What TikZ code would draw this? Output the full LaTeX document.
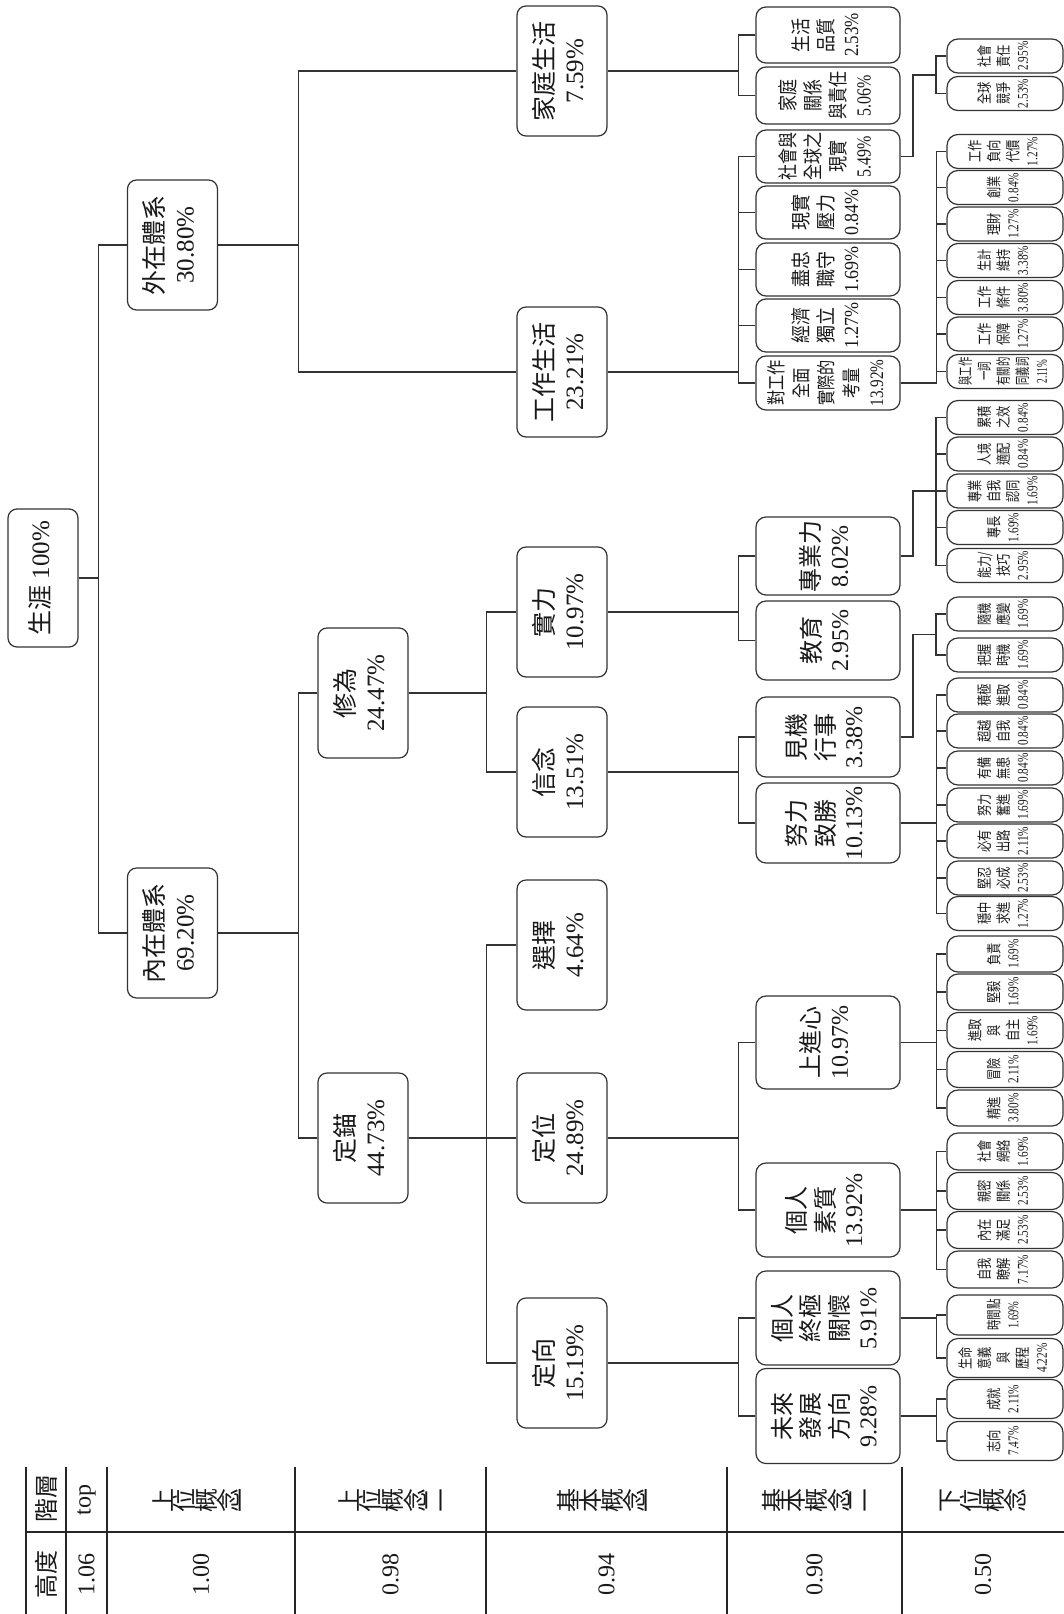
\documentclass[tikz,border=0pt]{standalone}
\usepackage{fontspec}
\usepackage{graphicx}
\setmainfont{Liberation Serif}
\newfontfamily\zh{Noto Sans CJK TC}
\newcommand\lbl[4]{\rotatebox{90}{\scalebox{#3}[1]{\fontsize{#1}{#2}\selectfont\begin{tabular}{@{}c@{}}#4\end{tabular}}}}
\newcommand\lbig[1]{\lbl{25}{30}{1}{#1}}
\newcommand\lmid[2][1]{\lbl{24}{28}{#1}{#2}}
\newcommand\llo[2][0.85]{\lbl{20}{25}{#1}{#2}}
\newcommand\lsm[2][0.75]{\lbl{15}{19}{#1}{#2}}
\newcommand\vg[1]{\rotatebox{90}{#1}}
\begin{document}
\begin{tikzpicture}[x=1pt,y=-1pt,
  box/.style={draw=black!80, line width=1.2pt, inner sep=0pt, fill=white, text=black!90},
  b0/.style={box, rounded corners=9pt, minimum width=70pt, minimum height=138pt},
  b1/.style={box, rounded corners=9pt, minimum width=90pt, minimum height=130pt},
  b4/.style={box, rounded corners=10pt, minimum width=144pt},
  b5/.style={box, rounded corners=11pt, minimum width=116pt},
  conn/.style={draw=black!80, line width=1.1pt},
  tline/.style={draw=black!85, line width=1.2pt},
  tcell/.style={inner sep=0pt, text=black!90, font=\fontsize{24}{28}\selectfont}]
\useasboundingbox (0,0) rectangle (1064,1614);

% level 0-3
\node[b0] (root) at (43,578) {\lbig{{\zh 生涯} 100\%}};
\node[b1] (wz) at (172.5,245) {\lbig{\zh 外在體系\\30.80\%}};
\node[b1] (nz) at (172.5,933) {\lbig{\zh 內在體系\\69.20\%}};
\node[b1] (xw) at (363,693) {\lbig{\zh 修為\\24.47\%}};
\node[b1] (dm) at (363,1138) {\lbig{\zh 定錨\\44.73\%}};
\node[b1] (jt) at (562,71) {\lbig{\zh 家庭生活\\7.59\%}};
\node[b1] (gz) at (562,372) {\lbig{\zh 工作生活\\23.21\%}};
\node[b1] (sl) at (562,612) {\lbig{\zh 實力\\10.97\%}};
\node[b1] (xn) at (562,772) {\lbig{\zh 信念\\13.51\%}};
\node[b1] (xz) at (562,945) {\lbig{\zh 選擇\\4.64\%}};
\node[b1] (dw) at (562,1138) {\lbig{\zh 定位\\24.89\%}};
\node[b1] (dx) at (562,1363) {\lbig{\zh 定向\\15.19\%}};

% level 4
\node[b4, minimum height=56] (shpz) at (828,35) {\llo{\zh 生活\\\zh 品質\\2.53\%}};
\node[b4, minimum height=57] (jtgx) at (828,95.5) {\llo[0.8]{\zh 家庭\\\zh 關係\\\zh 與責任\\5.06\%}};
\node[b4, minimum height=53] (sgj) at (828,156.5) {\llo[0.8]{\zh 社會與\\\zh 全球之\\\zh 現實\\5.49\%}};
\node[b4, minimum height=53] (xsyl) at (828,212.5) {\llo[0.9]{\zh 現實\\\zh 壓力\\0.84\%}};
\node[b4, minimum height=53] (jzzs) at (828,269.5) {\llo[0.9]{\zh 盡忠\\\zh 職守\\1.69\%}};
\node[b4, minimum height=53] (jjdl) at (828,325.5) {\llo[0.9]{\zh 經濟\\\zh 獨立\\1.27\%}};
\node[b4, minimum height=54] (dgz) at (828,383) {\lbl{19}{25}{0.8}{\zh 對工作\\\zh 全面\\\zh 實際的\\\zh 考量\\13.92\%}};
\node[b4, minimum height=78] (zyl) at (828,556) {\lmid{\zh 專業力\\8.02\%}};
\node[b4, minimum height=79] (jy) at (828,640.5) {\lmid{\zh 教育\\2.95\%}};
\node[b4, minimum height=80] (jjxs) at (828,737) {\lmid{\zh 見機\\\zh 行事\\3.38\%}};
\node[b4, minimum height=80] (nlzs) at (828,823) {\lmid{\zh 努力\\\zh 致勝\\10.13\%}};
\node[b4, minimum height=93] (sjx) at (828,1042.5) {\lmid{\zh 上進心\\10.97\%}};
\node[b4, minimum height=94] (grsz) at (828,1210) {\lmid{\zh 個人\\\zh 素質\\13.92\%}};
\node[b4, minimum height=94] (zjgh) at (828,1318) {\lmid{\zh 個人\\\zh 終極\\\zh 關懷\\5.91\%}};
\node[b4, minimum height=95] (wlfz) at (828,1416) {\lmid{\zh 未來\\\zh 發展\\\zh 方向\\9.28\%}};

% level 5
\node[b5, minimum height=34] (n1) at (1005,56) {\lsm{\zh 社會\\\zh 責任\\2.95\%}};
\node[b5, minimum height=34] (n2) at (1005,93.5) {\lsm{\zh 全球\\\zh 競爭\\2.53\%}};
\node[b5, minimum height=34] (n3) at (1005,151.5) {\lsm{\zh 工作\\\zh 負向\\\zh 代價\\1.27\%}};
\node[b5, minimum height=34] (n4) at (1005,187.5) {\lsm{\zh 創業\\0.84\%}};
\node[b5, minimum height=34] (n5) at (1005,224) {\lsm{\zh 理財\\1.27\%}};
\node[b5, minimum height=34] (n6) at (1005,260.5) {\lsm{\zh 生計\\\zh 維持\\3.38\%}};
\node[b5, minimum height=34] (n7) at (1005,297.5) {\lsm{\zh 工作\\\zh 條件\\3.80\%}};
\node[b5, minimum height=34] (n8) at (1005,334) {\lsm{\zh 工作\\\zh 保障\\1.27\%}};
\node[b5, minimum height=34] (n9) at (1005,371.5) {\lsm[0.62]{\zh 與工作\\\zh 一詞\\\zh 有關的\\\zh 同義詞\\2.11\%}};
\node[b5, minimum height=34] (n10) at (1005,417.5) {\lsm{\zh 累積\\\zh 之效\\0.84\%}};
\node[b5, minimum height=34] (n11) at (1005,454) {\lsm{\zh 人境\\\zh 適配\\0.84\%}};
\node[b5, minimum height=34] (n12) at (1005,491) {\lsm{\zh 專業\\\zh 自我\\\zh 認同\\1.69\%}};
\node[b5, minimum height=34] (n13) at (1005,527.5) {\lsm{\zh 專長\\1.69\%}};
\node[b5, minimum height=34] (n14) at (1005,565.5) {\lsm{\zh 能力/\\\zh 技巧\\2.95\%}};
\node[b5, minimum height=34] (n15) at (1005,614) {\lsm{\zh 隨機\\\zh 應變\\1.69\%}};
\node[b5, minimum height=34] (n16) at (1005,655) {\lsm{\zh 把握\\\zh 時機\\1.69\%}};
\node[b5, minimum height=34] (n17) at (1005,695) {\lsm{\zh 積極\\\zh 進取\\0.84\%}};
\node[b5, minimum height=34] (n18) at (1005,731) {\lsm{\zh 超越\\\zh 自我\\0.84\%}};
\node[b5, minimum height=34] (n19) at (1005,768) {\lsm{\zh 有備\\\zh 無患\\0.84\%}};
\node[b5, minimum height=34] (n20) at (1005,805) {\lsm{\zh 努力\\\zh 奮進\\1.69\%}};
\node[b5, minimum height=34] (n21) at (1005,841) {\lsm{\zh 必有\\\zh 出路\\2.11\%}};
\node[b5, minimum height=34] (n22) at (1005,878) {\lsm{\zh 堅忍\\\zh 必成\\2.53\%}};
\node[b5, minimum height=34] (n23) at (1005,913.5) {\lsm{\zh 穩中\\\zh 求進\\1.27\%}};
\node[b5, minimum height=36] (n24) at (1005,954) {\lsm{\zh 負責\\1.69\%}};
\node[b5, minimum height=36] (n25) at (1005,992) {\lsm{\zh 堅毅\\1.69\%}};
\node[b5, minimum height=36] (n26) at (1005,1030.5) {\lsm{\zh 進取\\\zh 與\\\zh 自主\\1.69\%}};
\node[b5, minimum height=36] (n27) at (1005,1069.5) {\lsm{\zh 冒險\\2.11\%}};
\node[b5, minimum height=36] (n28) at (1005,1108) {\lsm{\zh 精進\\3.80\%}};
\node[b5, minimum height=37] (n29) at (1005,1151.5) {\lsm{\zh 社會\\\zh 網絡\\1.69\%}};
\node[b5, minimum height=37] (n30) at (1005,1191) {\lsm{\zh 親密\\\zh 關係\\2.53\%}};
\node[b5, minimum height=37] (n31) at (1005,1230) {\lsm{\zh 內在\\\zh 滿足\\2.53\%}};
\node[b5, minimum height=37] (n32) at (1005,1269.5) {\lsm{\zh 自我\\\zh 瞭解\\7.17\%}};
\node[b5, minimum height=40] (n33) at (1005,1315) {\lsm[0.7]{\zh 時間點\\1.69\%}};
\node[b5, minimum height=39] (n34) at (1005,1358) {\lsm{\zh 生命\\\zh 意義\\\zh 與\\\zh 歷程\\4.22\%}};
\node[b5, minimum height=39] (n35) at (1005,1399) {\lsm{\zh 成就\\2.11\%}};
\node[b5, minimum height=39] (n36) at (1005,1441) {\lsm{\zh 志向\\7.47\%}};

% connectors
\foreach \c in {wz,nz} \draw[conn] (root.east) -- ++(20,0) |- (\c.west);
\foreach \c in {jt,gz} \draw[conn] (wz.east) -- ++(80,0) |- (\c.west);
\foreach \c in {xw,dm} \draw[conn] (nz.east) -- ++(80,0) |- (\c.west);
\foreach \c in {sl,xn} \draw[conn] (xw.east) -- ++(78,0) |- (\c.west);
\foreach \c in {xz,dw,dx} \draw[conn] (dm.east) -- ++(78,0) |- (\c.west);
\foreach \c in {shpz,jtgx} \draw[conn] (jt.east) -- ++(131,0) |- (\c.west);
\foreach \c in {sgj,xsyl,jzzs,jjdl,dgz} \draw[conn] (gz.east) -- ++(131,0) |- (\c.west);
\foreach \c in {zyl,jy} \draw[conn] (sl.east) -- ++(131,0) |- (\c.west);
\foreach \c in {jjxs,nlzs} \draw[conn] (xn.east) -- ++(131,0) |- (\c.west);
\foreach \c in {sjx,grsz} \draw[conn] (dw.east) -- ++(131,0) |- (\c.west);
\foreach \c in {zjgh,wlfz} \draw[conn] (dx.east) -- ++(131,0) |- (\c.west);

\coordinate (k1) at (936,75);
\coordinate (k2) at (936,491);
\coordinate (k3) at (936,634.5);
\draw[conn] (sgj.east) -| (913,75) -- (k1);
\draw[conn] (zyl.east) -| (913,491) -- (k2);
\draw[conn] (jjxs.east) -| (913,634.5) -- (k3);
\foreach \c in {n1,n2} \draw[conn] (k1) |- (\c.west);
\foreach \c in {n10,n11,n12,n13,n14} \draw[conn] (k2) |- (\c.west);
\foreach \c in {n15,n16} \draw[conn] (k3) |- (\c.west);
\foreach \c in {n3,n4,n5,n6,n7,n8,n9} \draw[conn] (dgz.east) -- ++(36,0) |- (\c.west);
\foreach \c in {n17,n18,n19,n20,n21,n22,n23} \draw[conn] (nlzs.east) -- ++(36,0) |- (\c.west);
\foreach \c in {n24,n25,n26,n27,n28} \draw[conn] (sjx.east) -- ++(36,0) |- (\c.west);
\foreach \c in {n29,n30,n31,n32} \draw[conn] (grsz.east) -- ++(36,0) |- (\c.west);
\foreach \c in {n33,n34} \draw[conn] (zjgh.east) -- ++(36,0) |- (\c.west);
\foreach \c in {n35,n36} \draw[conn] (wlfz.east) -- ++(36,0) |- (\c.west);

% table
\foreach \x in {26,66,107,295,486,727,902} \draw[tline] (\x,1467) -- (\x,1614);
\draw[tline] (26,1532) -- (1064,1532);
\node[tcell] (h1) at (46,1498) {\rotatebox{90}{\zh 階層}};
\node[tcell] (h2) at (86.5,1500) {\rotatebox{90}{top}};
\node[tcell] (h3) at (201,1500) {\zh\vg{上}\vg{位}\vg{概}\vg{念}\vg{一}};
\node[tcell] (h4) at (390.5,1500) {\zh\vg{上}\vg{位}\vg{概}\vg{念}\vg{二}};
\node[tcell] (h5) at (606.5,1500) {\zh\vg{基}\vg{本}\vg{概}\vg{念}\vg{一}};
\node[tcell] (h6) at (814.5,1500) {\zh\vg{基}\vg{本}\vg{概}\vg{念}\vg{二}};
\node[tcell] (h7) at (983,1500) {\zh\vg{下}\vg{位}\vg{概}\vg{念}};
\node[tcell] (v1) at (46,1574) {\rotatebox{90}{\zh 高度}};
\node[tcell] (v2) at (86.5,1574) {\rotatebox{90}{1.06}};
\node[tcell] (v3) at (201,1574) {\rotatebox{90}{1.00}};
\node[tcell] (v4) at (390.5,1574) {\rotatebox{90}{0.98}};
\node[tcell] (v5) at (606.5,1574) {\rotatebox{90}{0.94}};
\node[tcell] (v6) at (814.5,1574) {\rotatebox{90}{0.90}};
\node[tcell] (v7) at (983,1574) {\rotatebox{90}{0.50}};
\end{tikzpicture}
\end{document}
